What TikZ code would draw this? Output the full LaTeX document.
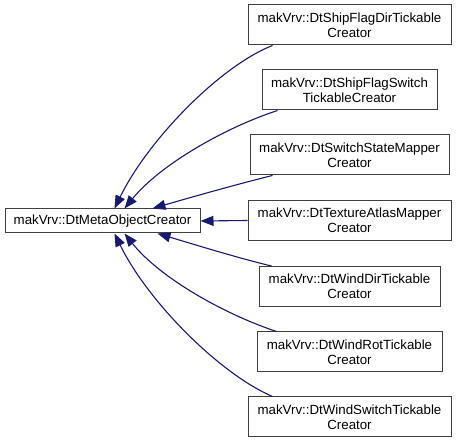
\documentclass[tikz,border=0pt]{standalone}
\usepackage{fontspec}
\setmainfont{Liberation Sans}
\usetikzlibrary{arrows.meta,calc}
\definecolor{edgeblue}{HTML}{191970}
\definecolor{boxline}{HTML}{404040}
\tikzset{
  cls/.style={draw=boxline, line width=1pt, fill=white, align=center,
    inner xsep=1pt, inner ysep=0pt, minimum height=40pt,
    font=\fontsize{13.3}{15}\selectfont},
  edge/.style={draw=edgeblue, line width=1.1pt,
    -{Triangle[length=13pt,width=10pt]}}
}
\begin{document}
\begin{tikzpicture}[x=1pt,y=-1pt]
\useasboundingbox (0,0) rectangle (456,443);
\node[cls, minimum height=24pt, minimum width=195pt] (base) at (102.5,221) {makVrv::DtMetaObjectCreator};
\node[cls, minimum width=203pt] (n1) at (349.5,25) {makVrv::DtShipFlagDirTickable\\Creator};
\node[cls, minimum width=175pt] (n2) at (349.5,90) {makVrv::DtShipFlagSwitch\\TickableCreator};
\node[cls, minimum width=199pt] (n3) at (349.5,155) {makVrv::DtSwitchStateMapper\\Creator};
\node[cls, minimum width=203pt] (n4) at (349.5,220.5) {makVrv::DtTextureAtlasMapper\\Creator};
\node[cls, minimum width=181pt] (n5) at (349.5,286.5) {makVrv::DtWindDirTickable\\Creator};
\node[cls, minimum width=185pt] (n6) at (349.5,352) {makVrv::DtWindRotTickable\\Creator};
\node[cls, minimum width=203pt] (n7) at (349.5,417) {makVrv::DtWindSwitchTickable\\Creator};

\draw[edge] ($(n1.south west)+(25,0)$) .. controls (220,66) and (148,140) .. ($(base.north west)+(110,0)$);
\draw[edge] ($(n2.south west)+(16,0)$) .. controls (224,128) and (160,165) .. ($(base.north west)+(120,0)$);
\draw[edge] ($(n3.south west)+(23,0)$) .. controls (238,184) and (192,197) .. ($(base.north west)+(148,0)$);
\draw[edge] (n4.west) -- (base.east);
\draw[edge] ($(n5.north west)+(13,0)$) .. controls (238,258) and (196,245) .. ($(base.south west)+(153,0)$);
\draw[edge] ($(n6.north west)+(20,0)$) .. controls (224,314) and (160,278) .. ($(base.south west)+(120,0)$);
\draw[edge] ($(n7.north west)+(25,0)$) .. controls (220,374) and (148,302) .. ($(base.south west)+(110,0)$);
\end{tikzpicture}
\end{document}
